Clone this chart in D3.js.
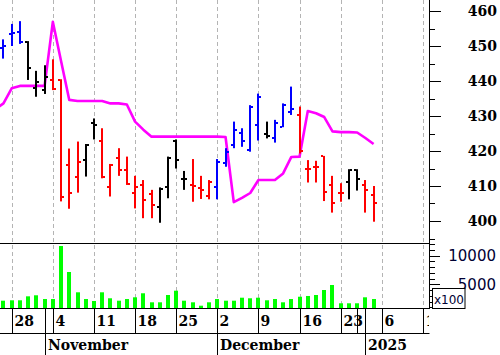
<!DOCTYPE html>
<html><head><meta charset="utf-8">
<script src="https://cdn.jsdelivr.net/npm/d3@7"></script>
<style>html,body{margin:0;padding:0;background:#fff;overflow:hidden}</style>
</head><body>
<svg id="c" width="500" height="355"></svg>
<script>
// ---------- data ----------
const dates = ["2024-10-25","2024-10-28","2024-10-29","2024-10-30","2024-10-31","2024-11-01",
  "2024-11-04","2024-11-05","2024-11-06","2024-11-07","2024-11-08",
  "2024-11-11","2024-11-12","2024-11-13","2024-11-14","2024-11-15",
  "2024-11-18","2024-11-19","2024-11-20","2024-11-21","2024-11-22",
  "2024-11-25","2024-11-26","2024-11-27","2024-11-28","2024-11-29",
  "2024-12-02","2024-12-03","2024-12-04","2024-12-05","2024-12-06",
  "2024-12-09","2024-12-10","2024-12-11","2024-12-12","2024-12-13",
  "2024-12-16","2024-12-17","2024-12-18","2024-12-19","2024-12-20",
  "2024-12-23","2024-12-24","2024-12-30","2025-01-02","2025-01-03"];
const openP  = [449.5,453.4,454.1,451.2,437.9,437.4,440.3,440.3,416.0,412.7,417.4,427.9,422.9,409.6,417.9,414.6,407.9,410.3,407.7,404.1,409.8,422.9,411.9,410.4,409.3,407.1,409.8,416.5,421.7,425.1,420.3,427.4,425.0,423.6,426.9,431.2,430.3,414.8,415.3,418.6,410.3,408.1,411.2,414.6,410.3,407.4];
const highP  = [451.9,456.3,457.1,451.4,442.9,444.5,446.2,440.5,420.7,422.7,422.0,429.3,426.5,416.3,420.8,418.4,412.9,411.7,408.9,409.6,418.4,423.3,414.3,417.7,412.9,411.7,417.7,420.8,428.4,426.5,433.1,436.4,428.4,428.9,433.6,438.4,432.7,417.4,417.2,418.6,412.9,410.8,414.8,414.8,411.7,410.0];
const lowP   = [446.4,450.0,450.6,440.3,435.5,436.3,437.4,405.6,403.5,408.1,412.7,423.3,412.2,407.0,412.9,410.3,403.6,400.8,400.8,399.5,406.5,415.0,408.9,405.5,406.3,406.2,406.2,415.5,420.8,421.2,419.8,423.0,423.6,422.4,426.8,430.3,419.3,411.0,411.0,405.7,402.4,405.5,406.2,408.7,402.4,399.8];
const closeP = [450.0,453.6,451.2,443.6,439.8,441.2,437.6,406.8,407.9,417.0,421.7,427.4,412.5,416.0,414.6,410.6,409.6,406.0,404.6,409.1,417.9,417.4,411.9,410.0,408.9,411.2,417.0,419.8,426.0,422.9,432.7,435.5,424.3,428.1,433.1,432.0,420.0,414.8,415.3,408.4,405.1,408.1,414.6,411.9,408.9,405.1];
const barState = ["up","up","up","flat","flat","flat","down","down","down","down","flat","flat","down","down","down","down","down","down","down","flat","flat","flat","flat","down","down","down","up","up","up","up","up","up","flat","up","up","up","down","down","down","down","down","down","flat","flat","down","down"];
const volume = [2140,2210,2210,2900,3080,2430,2430,11650,7130,3600,2430,2090,3600,2560,2140,2430,2730,3430,1860,1860,3130,3880,2140,1860,1270,1860,2430,2140,2140,2660,2560,2660,2210,2430,1860,2430,2830,2960,3130,4000,4870,1690,1690,1690,2730,2430];
const signalBefore = 431.9; // value for the session before the first bar
const signal = [433.6,437.9,438.6,438.6,438.6,438.6,456.9,445.7,434.6,434.3,434.3,434.3,434.3,433.6,433.6,433.3,428.4,426.1,424.1,424.1,424.1,424.1,424.1,424.1,424.1,424.1,424.1,424.0,405.4,406.6,408.0,411.7,411.7,411.7,413.6,418.3,418.4,431.4,430.8,429.7,425.6,425.4,425.4,425.3,423.7,422.0];
// week separators (slot index on the trading-day axis) and their labels
const weekTickIdx    = [1,6,11,16,21,26,31,36,41,43,46,51];
const weekTickLabels = ["28","4","11","18","25","2","9","16","23","30","6","13"];
const monthTickIdx    = [5,26,44];
const monthTickLabels = ["November","December","2025"];
const priceTicks = [400,410,420,430,440,450,460];
const volumeTicks = [5000,10000];

// ---------- layout ----------
const svg = d3.select("#c");
const axisX = 429;
const priceTop = 0, priceBottom = 243, volBottom = 308, dateBottom = 333, H = 355;
const serif = "'DejaVu Serif', serif";
const sans = "'DejaVu Sans', sans-serif";
const colorOf = {up:"#0000ff", flat:"#000000", down:"#ff0000"};

const x = d3.scaleLinear().domain([0, 51]).range([3.475, 3.475 + 8.225*51]);
const y = d3.scaleLinear().domain([400, 460]).range([221, 11]);
const yv = d3.scaleLinear().domain([0, 10000]).range([313, 255.5]);
const px = i => Math.round(x(i));

const defs = svg.append("defs");
defs.append("clipPath").attr("id","cp").append("rect").attr("x",0).attr("y",priceTop).attr("width",axisX).attr("height",priceBottom-priceTop);
defs.append("clipPath").attr("id","cv").append("rect").attr("x",0).attr("y",priceBottom).attr("width",axisX).attr("height",volBottom-priceBottom);
defs.append("clipPath").attr("id","cd").append("rect").attr("x",0).attr("y",volBottom).attr("width",axisX).attr("height",H-volBottom);

// shown week labels: skip a label that would crowd the previous one
const shownWeek = weekTickIdx.map((d,k)=> k===0 || d - weekTickIdx[k-1] >= 3);

// gridlines
const grid = svg.append("g");
weekTickIdx.forEach((d,k)=>{
  if(!shownWeek[k]) return;
  const gx = px(d)+0.5;
  if(gx > axisX) return;
  grid.append("line").attr("x1",gx).attr("x2",gx).attr("y1",0).attr("y2",volBottom)
    .attr("stroke","#b4b4b4").attr("stroke-width",1).attr("stroke-dasharray","4,3");
});

// magenta line
const sigPts = [[-1, signalBefore]].concat(signal.map((v,i)=>[i,v]));
svg.append("g").attr("clip-path","url(#cp)").append("path")
  .datum(sigPts)
  .attr("d", d3.line().x(d=>x(d[0])).y(d=>y(d[1])))
  .attr("fill","none").attr("stroke","#ff00ff").attr("stroke-width",2.6).attr("stroke-linejoin","round");

// OHLC bars
const bars = svg.append("g").attr("clip-path","url(#cp)");
dates.forEach((d,i)=>{
  const cx = px(i), c = colorOf[barState[i]];
  const yh = y(highP[i]), yl = y(lowP[i]);
  bars.append("rect").attr("x",cx-1).attr("y",yh).attr("width",2).attr("height",Math.max(1,yl-yh)).attr("fill",c);
  bars.append("rect").attr("x",cx-3).attr("y",Math.round(y(openP[i]))-1).attr("width",2).attr("height",2).attr("fill",c);
  bars.append("rect").attr("x",cx+1).attr("y",Math.round(y(closeP[i]))-1).attr("width",2).attr("height",2).attr("fill",c);
});

// volume bars
const vg = svg.append("g").attr("clip-path","url(#cv)");
vg.selectAll("rect").data(volume).join("rect")
  .attr("x",(d,i)=>px(i)-2).attr("width",4)
  .attr("y",d=>yv(d)).attr("height",d=>volBottom - yv(d))
  .attr("fill","#00ff00");

// frame lines
const frame = svg.append("g").attr("stroke","#000").attr("stroke-width",1);
frame.append("line").attr("x1",0).attr("x2",axisX+0.5).attr("y1",priceBottom+0.5).attr("y2",priceBottom+0.5);
frame.append("line").attr("x1",0).attr("x2",axisX+0.5).attr("y1",volBottom+0.5).attr("y2",volBottom+0.5);
frame.append("line").attr("x1",0).attr("x2",axisX+0.5).attr("y1",dateBottom+0.5).attr("y2",dateBottom+0.5);
frame.append("line").attr("x1",axisX+0.5).attr("x2",axisX+0.5).attr("y1",0).attr("y2",volBottom+1);

// price axis
const pa = svg.append("g");
d3.range(395, 466, 5).forEach(v=>{
  const ty = Math.round(y(v))+0.5;
  if(ty < 0 || ty > priceBottom) return;
  const major = v % 10 === 0;
  pa.append("line").attr("x1",axisX).attr("x2",axisX + (major?12:6)).attr("y1",ty).attr("y2",ty).attr("stroke","#000");
});
pa.selectAll("text").data(priceTicks).join("text")
  .attr("x",497).attr("y",d=>y(d)).attr("dy","0.36em").attr("text-anchor","end")
  .attr("font-family",serif).attr("font-weight","bold").attr("font-size",14).attr("fill","#000")
  .text(d=>d);

// volume axis
const va = svg.append("g");
d3.range(1000, 13000, 1000).forEach(v=>{
  const ty = Math.round(yv(v))+0.5;
  if(ty < priceBottom || ty > volBottom) return;
  const major = v % 5000 === 0;
  va.append("line").attr("x1",axisX).attr("x2",axisX + (major?11:6)).attr("y1",ty).attr("y2",ty).attr("stroke","#000");
});
va.selectAll("text").data(volumeTicks).join("text")
  .attr("x",496).attr("y",d=>yv(d)).attr("dy","0.36em").attr("text-anchor","end")
  .attr("font-family",sans).attr("font-size",15).attr("fill","#000033")
  .text(d=>d3.format("d")(d));
va.append("rect").attr("x",432.5).attr("y",288.5).attr("width",32.5).attr("height",20)
  .attr("fill","#fff").attr("stroke","#000");
va.append("text").attr("x",434).attr("y",304).attr("font-family",sans).attr("font-size",12).attr("fill","#000033").text("x100");

// date axis
const da = svg.append("g").attr("clip-path","url(#cd)");
weekTickIdx.forEach((d,k)=>{
  const sx = px(d)+0.5;
  da.append("line").attr("x1",sx).attr("x2",sx).attr("y1",volBottom).attr("y2",dateBottom).attr("stroke","#000");
  if(shownWeek[k]) da.append("text").attr("x",sx+2).attr("y",326)
    .attr("font-family",serif).attr("font-weight","bold").attr("font-size",14).attr("fill","#000")
    .text(weekTickLabels[k]);
});
monthTickIdx.forEach((d,k)=>{
  const sx = px(d)+0.5;
  da.append("line").attr("x1",sx).attr("x2",sx).attr("y1",volBottom).attr("y2",H).attr("stroke","#000");
  da.append("text").attr("x",sx+2.5).attr("y",350)
    .attr("font-family",serif).attr("font-weight","bold").attr("font-size",14).attr("fill","#000")
    .text(monthTickLabels[k]);
});
</script>
</body></html>
